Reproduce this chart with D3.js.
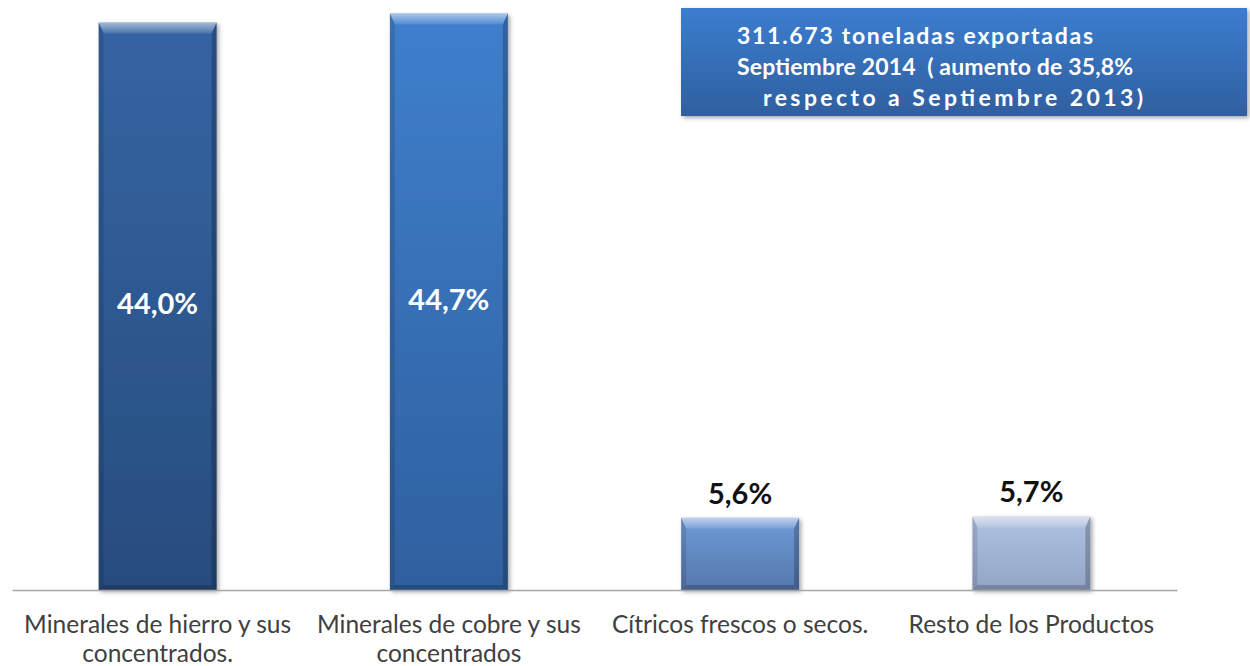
<!DOCTYPE html>
<html>
<head>
<meta charset="utf-8">
<script src="https://cdn.jsdelivr.net/npm/d3@7"></script>
<style>
  body { margin: 0; background: #fff; }
  svg { display: block; }
</style>
</head>
<body>
<svg id="chart" width="1250" height="666"></svg>
<script>
// data
const categories = [
    ["Minerales de hierro y sus", "concentrados."],
    ["Minerales de cobre y sus", "concentrados"],
    ["Cítricos frescos o secos."],
    ["Resto de los Productos"]
];
const shares = [44.0, 44.7, 5.6, 5.7];
const shareLabels = ["44,0%", "44,7%", "5,6%", "5,7%"];
const noteLines = [
    "311.673 toneladas exportadas",
    "Septiembre 2014  ( aumento de 35,8%",
    "respecto a Septiembre 2013)"
];

// bar colours: [top, bottom]
const barColors = [
    ["#3565a3", "#284c7e"],
    ["#3f7fcd", "#2f609f"],
    ["#6f9bd7", "#5577ad"],
    ["#b0c2e1", "#93a5c6"]
];

// note line layout: [center x, width]
const noteLayout = [[915, 356], [935, 396], [953, 380]];

const svg = d3.select("#chart");
const baseY = 590;

const x = d3.scaleBand()
    .domain(d3.range(shares.length))
    .range([12, 1177])
    .paddingInner(0.595)
    .paddingOuter(0.2975);

const y = d3.scaleLinear()
    .domain([0, 45.75])
    .range([baseY, 0]);

const defs = svg.append("defs");

defs.append("filter")
    .attr("id", "shadow")
    .attr("x", "-10%").attr("y", "-10%")
    .attr("width", "130%").attr("height", "130%")
    .append("feDropShadow")
    .attr("dx", 2).attr("dy", 2)
    .attr("stdDeviation", 2)
    .attr("flood-color", "#000")
    .attr("flood-opacity", 0.35);

barColors.forEach((c, i) => {
    const g = defs.append("linearGradient")
        .attr("id", "bar" + i)
        .attr("x1", 0).attr("x2", 0).attr("y1", 0).attr("y2", 1);
    g.append("stop").attr("offset", "0%").attr("stop-color", c[0]);
    g.append("stop").attr("offset", "100%").attr("stop-color", c[1]);
});

const bevel = defs.append("linearGradient")
    .attr("id", "bevelTop")
    .attr("x1", 0).attr("x2", 0).attr("y1", 0).attr("y2", 1);
bevel.append("stop").attr("offset", "0%").attr("stop-color", "#fff").attr("stop-opacity", 0.55);
bevel.append("stop").attr("offset", "100%").attr("stop-color", "#fff").attr("stop-opacity", 0.1);

const boxGrad = defs.append("linearGradient")
    .attr("id", "boxGrad")
    .attr("x1", 0).attr("x2", 0).attr("y1", 0).attr("y2", 1);
boxGrad.append("stop").attr("offset", "0%").attr("stop-color", "#3c7dcf");
boxGrad.append("stop").attr("offset", "100%").attr("stop-color", "#2f5f9f");

// bars
const bars = svg.append("g")
    .selectAll("g")
    .data(shares)
    .join("g")
    .attr("filter", "url(#shadow)");

bars.each(function (d, i) {
    const g = d3.select(this);
    const x0 = x(i), w = x.bandwidth();
    const y0 = y(d), h = baseY - y(d);
    const t = 11, s = 5;

    g.append("rect")
        .attr("x", x0).attr("y", y0)
        .attr("width", w).attr("height", h)
        .attr("fill", `url(#bar${i})`);

    // top bevel
    g.append("path")
        .attr("d", `M${x0},${y0}L${x0 + w},${y0}L${x0 + w - s},${y0 + t}L${x0 + s},${y0 + t}Z`)
        .attr("fill", "url(#bevelTop)");
    // left / right edges
    g.append("path")
        .attr("d", `M${x0},${y0}L${x0 + s},${y0 + t}L${x0 + s},${baseY - s}L${x0},${baseY}Z`)
        .attr("fill", "#000").attr("opacity", 0.12);
    g.append("path")
        .attr("d", `M${x0 + w},${y0}L${x0 + w - s},${y0 + t}L${x0 + w - s},${baseY - s}L${x0 + w},${baseY}Z`)
        .attr("fill", "#000").attr("opacity", 0.22);
    // bottom edge
    g.append("path")
        .attr("d", `M${x0},${baseY}L${x0 + s},${baseY - s}L${x0 + w - s},${baseY - s}L${x0 + w},${baseY}Z`)
        .attr("fill", "#000").attr("opacity", 0.2);
});

// value labels
svg.append("g")
    .selectAll("text")
    .data(shares)
    .join("text")
    .attr("x", (d, i) => x(i) + x.bandwidth() / 2)
    .attr("y", d => d > 20 ? (y(d) + baseY) / 2 + 8 : y(d) - 14)
    .attr("text-anchor", "middle")
    .attr("font-family", "Lato, 'Open Sans', sans-serif")
    .attr("font-weight", "bold")
    .attr("font-size", 29)
    .attr("fill", d => d > 20 ? "#fff" : "#111")
    .text((d, i) => shareLabels[i]);

// axis
const axis = svg.append("g")
    .attr("transform", `translate(0,${baseY})`)
    .call(d3.axisBottom(x).tickSize(0).tickSizeOuter(0).tickFormat(""));
axis.select(".domain").attr("stroke", "#a6a6a6").attr("stroke-width", 1.5);

axis.selectAll(".tick text").remove();
axis.selectAll(".tick")
    .append("text")
    .attr("fill", "#404040")
    .attr("font-family", "Lato, 'Open Sans', sans-serif")
    .attr("font-size", 24.5)
    .attr("text-anchor", "middle")
    .selectAll("tspan")
    .data(i => categories[i])
    .join("tspan")
    .attr("x", 0)
    .attr("y", (d, j) => 43 + j * 29)
    .text(d => d);

// note box
const note = svg.append("g");
note.append("rect")
    .attr("x", 681).attr("y", 8)
    .attr("width", 566).attr("height", 108)
    .attr("fill", "url(#boxGrad)")
    .attr("filter", "url(#shadow)");

note.selectAll("text")
    .data(noteLines)
    .join("text")
    .attr("font-family", "Lato, sans-serif")
    .attr("font-weight", "bold")
    .attr("font-size", 23)
    .attr("fill", "#fff")
    .attr("x", (d, i) => noteLayout[i][0] - noteLayout[i][1] / 2)
    .attr("y", (d, i) => 44 + i * 31)
    .attr("textLength", (d, i) => noteLayout[i][1])
    .attr("lengthAdjust", "spacing")
    .style("white-space", "pre")
    .text(d => d);
</script>
</body>
</html>
